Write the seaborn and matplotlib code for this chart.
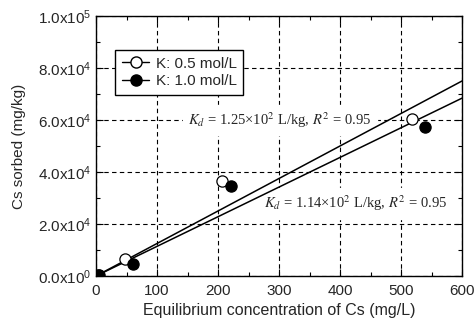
import numpy as np
import pandas as pd
import matplotlib
matplotlib.use('Agg')
import matplotlib.pyplot as plt
from matplotlib.lines import Line2D
from matplotlib.ticker import MultipleLocator, FixedLocator
import seaborn as sns

# data
conc_05 = [3, 47, 206, 518]
sorbed_05 = [300, 6400, 36500, 60200]
conc_10 = [5, 61, 221, 539]
sorbed_10 = [200, 4600, 34700, 57400]

fit_x = [0, 600]
fit_y_05 = [0, 75000]
fit_y_10 = [0, 68400]

y_ticks = [0, 20000, 40000, 60000, 80000, 100000]
y_tick_labels = ['0.0x10$^{0}$', '2.0x10$^{4}$', '4.0x10$^{4}$',
                 '6.0x10$^{4}$', '8.0x10$^{4}$', '1.0x10$^{5}$']

sns.set_style('ticks')
plt.rcParams['font.family'] = ['Liberation Sans', 'DejaVu Sans']
plt.rcParams['mathtext.fontset'] = 'custom'
plt.rcParams['mathtext.rm'] = 'Liberation Sans'
plt.rcParams['mathtext.it'] = 'Liberation Sans:italic'

fig = plt.figure(figsize=(4.76, 3.2), dpi=100)
ax = fig.add_axes([96 / 476, 44 / 320, 366 / 476, 260 / 320])

sns.lineplot(x=fit_x, y=fit_y_05, color='black', lw=1.1, ax=ax, zorder=3)
sns.lineplot(x=fit_x, y=fit_y_10, color='black', lw=1.1, ax=ax, zorder=3)

df05 = pd.DataFrame({'x': conc_05, 'y': sorbed_05})
df10 = pd.DataFrame({'x': conc_10, 'y': sorbed_10})
sns.scatterplot(data=df05, x='x', y='y', marker='o', s=65, facecolor='white',
                edgecolor='black', linewidth=0.9, zorder=4, ax=ax)
sns.scatterplot(data=df10, x='x', y='y', marker='o', s=65, color='black',
                edgecolor='black', linewidth=0.9, zorder=5, ax=ax)

ax.set_xlim(0, 600)
ax.set_ylim(0, 100000)
ax.xaxis.set_major_locator(MultipleLocator(100))
ax.xaxis.set_minor_locator(MultipleLocator(50))
ax.yaxis.set_major_locator(FixedLocator(y_ticks))
ax.yaxis.set_minor_locator(MultipleLocator(10000))
ax.set_yticklabels(y_tick_labels)
ax.tick_params(which='both', direction='in', top=True, right=True,
               color='black', width=0.8)
ax.tick_params(which='major', length=5, labelsize=11)
ax.tick_params(axis='x', which='major', pad=6)
ax.tick_params(axis='y', which='major', pad=3)
ax.tick_params(which='minor', length=3)
for sp in ax.spines.values():
    sp.set_color('black')
    sp.set_linewidth(1.0)
ax.grid(True, which='major', ls=(0, (4, 3)), color='black', lw=0.8)
ax.set_axisbelow(True)

ax.set_xlabel('Equilibrium concentration of Cs (mg/L)', fontsize=11.5, labelpad=3)
ax.set_ylabel('Cs sorbed (mg/kg)', fontsize=11, labelpad=9)

ax.text(151, 60000, r'$K_d$ = 1.25×10$^2$ L/kg, $R^2$ = 0.95',
        family='Liberation Serif', math_fontfamily='stix', fontsize=10.5,
        va='center', ha='left', backgroundcolor='white', zorder=2)
ax.text(275, 28000, r'$K_d$ = 1.14×10$^2$ L/kg, $R^2$ = 0.95',
        family='Liberation Serif', math_fontfamily='stix', fontsize=10.5,
        va='center', ha='left', backgroundcolor='white', zorder=2)

handles = [
    Line2D([], [], color='black', lw=1, marker='o', markersize=8,
           markerfacecolor='white', markeredgecolor='black'),
    Line2D([], [], color='black', lw=1, marker='o', markersize=8,
           markerfacecolor='black', markeredgecolor='black'),
]
leg = ax.legend(handles, ['K: 0.5 mol/L', 'K: 1.0 mol/L'], loc='upper left',
                bbox_to_anchor=(0.052, 0.87), borderaxespad=0, frameon=True,
                fancybox=False, edgecolor='black', framealpha=1,
                fontsize=11, handlelength=1.8, handletextpad=0.4,
                labelspacing=0.25, borderpad=0.45)
leg.get_frame().set_linewidth(1.0)
leg.set_zorder(6)

fig.savefig('out.png', dpi=100)
